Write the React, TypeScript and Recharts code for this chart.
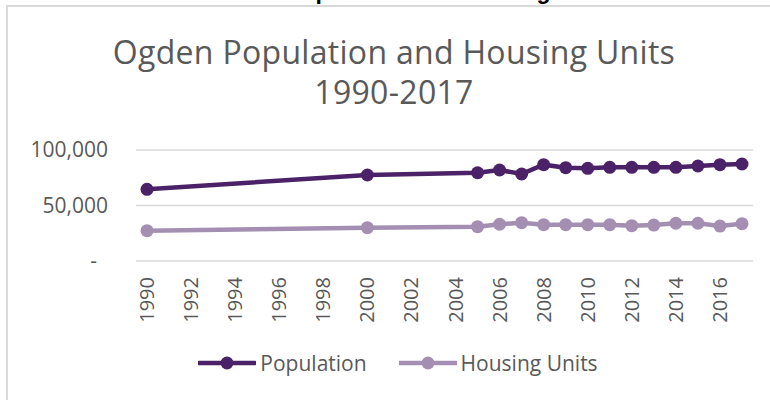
import { LineChart, Line, XAxis, YAxis, CartesianGrid, Legend } from 'recharts';

const years = [1990, 2000, 2005, 2006, 2007, 2008, 2009, 2010, 2011, 2012, 2013, 2014, 2015, 2016, 2017];
const population = [64600, 77500, 79500, 82000, 78400, 86800, 84100, 83500, 84400, 84400, 84400, 84400, 85600, 86800, 87400];
const housingUnits = [27300, 30000, 30900, 33100, 34500, 32700, 32700, 32700, 32700, 31800, 32400, 34000, 34000, 31500, 33600];
const yearTicks = [1990, 1992, 1994, 1996, 1998, 2000, 2002, 2004, 2006, 2008, 2010, 2012, 2014, 2016];
const valueTicks = [0, 50000, 100000];
const titleLines = ['Ogden Population and Housing Units', '1990-2017'];

const series = [
  { key: 'population', name: 'Population', color: '#4b2267' },
  { key: 'housing', name: 'Housing Units', color: '#a48fb3' },
];

const data = years.map((year, i) => ({ year, population: population[i], housing: housingUnits[i] }));

const FONT = '"Open Sans", sans-serif';
const GRAY = '#595959';

function YTick(props: any) {
  const { x, y, payload } = props;
  const v = payload.value as number;
  const label = v === 0 ? '-' : v.toLocaleString('en-US');
  return (
    <text x={v === 0 ? x - 31 : x - 20} y={y} dy="0.35em" textAnchor="end" fill={GRAY} fontSize={21} fontFamily={FONT}>
      {label}
    </text>
  );
}

function XTick(props: any) {
  const { x, y, payload } = props;
  const ty = y + 8;
  return (
    <text x={x} y={ty} dy="0.35em" transform={`rotate(-90 ${x} ${ty})`} textAnchor="end" fill={GRAY} fontSize={20} fontFamily={FONT}>
      {payload.value}
    </text>
  );
}

function LegendContent() {
  return (
    <div style={{ display: 'flex', justifyContent: 'center', alignItems: 'center', height: 30, gap: 32, fontFamily: FONT, fontSize: 21, color: GRAY, paddingLeft: 6 }}>
      {series.map((s) => (
        <div key={s.key} style={{ display: 'flex', alignItems: 'center', gap: 4 }}>
          <svg width={58} height={20}>
            <line x1={1} y1={10} x2={57} y2={10} stroke={s.color} strokeWidth={4.5} strokeLinecap="round" />
            <circle cx={29} cy={10} r={6.5} fill={s.color} />
          </svg>
          <span>{s.name}</span>
        </div>
      ))}
    </div>
  );
}

export default function App() {
  return (
    <div style={{ position: 'absolute', left: 0, top: 0, width: 770, height: 400, overflow: 'hidden', background: '#fff' }}>
      <svg width={770} height={10} style={{ position: 'absolute', left: 0, top: 0 }}>
        <text x={286} y={-1.5} fontFamily='"Liberation Sans", Arial, sans-serif' fontWeight="bold" fontSize={23} fill="#000">
          Population and Housing
        </text>
      </svg>
      <div style={{ position: 'absolute', left: 6, top: 5, width: 776, height: 410, border: '2px solid #d9d9d9', boxSizing: 'border-box' }} />
      {titleLines.map((line, i) => (
        <div
          key={line}
          style={{
            position: 'absolute',
            left: 6,
            top: 34 + i * 40,
            width: 776,
            height: 36,
            textAlign: 'center',
            fontFamily: FONT,
            fontSize: 32,
            letterSpacing: 0.3,
            lineHeight: '36px',
            color: GRAY,
          }}
        >
          {line}
        </div>
      ))}
      <div style={{ position: 'absolute', left: 0, top: 0 }}>
        <LineChart width={790} height={400} data={data} margin={{ top: 150, right: 37, left: 0, bottom: 22 }}>
          <CartesianGrid vertical={false} stroke="#d9d9d9" strokeWidth={1.5} />
          <XAxis
            dataKey="year"
            type="number"
            domain={[1989.5, 2017.5]}
            ticks={yearTicks}
            interval={0}
            axisLine={false}
            tickLine={false}
            height={87}
            tick={<XTick />}
          />
          <YAxis domain={[0, 100000]} ticks={valueTicks} axisLine={false} tickLine={false} width={136} tick={<YTick />} />
          <Legend verticalAlign="bottom" content={<LegendContent />} wrapperStyle={{ left: 0, width: 790 }} />
          {series.map((s) => (
            <Line
              key={s.key}
              dataKey={s.key}
              name={s.name}
              stroke={s.color}
              strokeWidth={4.5}
              dot={{ r: 6.5, fill: s.color, stroke: 'none' }}
              activeDot={false}
              isAnimationActive={false}
            />
          ))}
        </LineChart>
      </div>
    </div>
  );
}
